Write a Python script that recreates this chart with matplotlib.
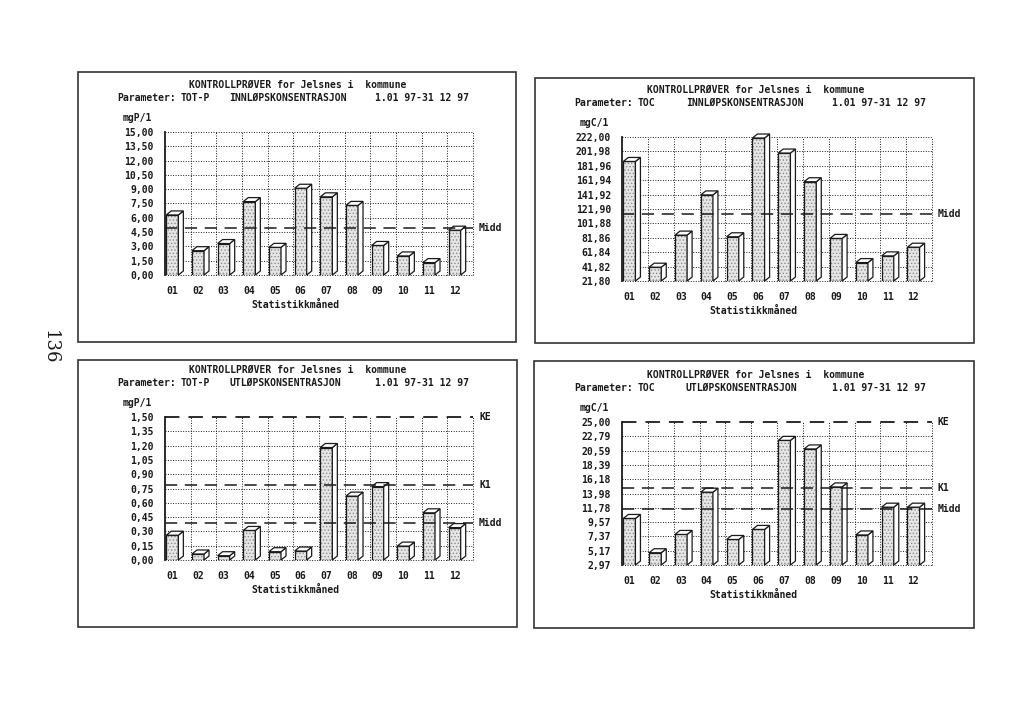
import matplotlib
matplotlib.use('Agg')
import matplotlib.pyplot as plt
from matplotlib.patches import Rectangle, Polygon
from matplotlib.transforms import blended_transform_factory
import numpy as np

W, H = 1024, 724

months = ['01', '02', '03', '04', '05', '06', '07', '08', '09', '10', '11', '12']

# TOT-P innløp (mgP/l)
totp_inn = [6.3, 2.55, 3.3, 7.7, 2.9, 9.1, 8.2, 7.3, 3.1, 2.0, 1.3, 4.7]
totp_inn_ticks = ['0,00', '1,50', '3,00', '4,50', '6,00', '7,50', '9,00',
                  '10,50', '12,00', '13,50', '15,00']
totp_inn_midd = 4.88

# TOC innløp (mgC/l)
toc_inn = [188.0, 41.0, 85.6, 141.5, 83.3, 220.6, 199.7, 159.8, 81.0, 47.4, 56.7, 68.8]
toc_inn_ticks = ['21,80', '41,82', '61,84', '81,86', '101,88', '121,90',
                 '141,92', '161,94', '181,96', '201,98', '222,00']
toc_inn_midd = 114.9

# TOT-P utløp (mgP/l)
totp_ut = [0.26, 0.063, 0.045, 0.31, 0.087, 0.094, 1.18, 0.67, 0.77, 0.146, 0.495, 0.34]
totp_ut_ticks = ['0,00', '0,15', '0,30', '0,45', '0,60', '0,75', '0,90',
                 '1,05', '1,20', '1,35', '1,50']
totp_ut_midd = 0.387
totp_ut_k1 = 0.79
totp_ut_ke = 1.50

# TOC utløp (mgC/l)
toc_ut = [10.14, 4.86, 7.68, 14.19, 6.9, 8.45, 22.17, 20.85, 15.0, 7.6, 11.88, 11.88]
toc_ut_ticks = ['2,97', '5,17', '7,37', '9,57', '11,78', '13,98', '16,18',
                '18,39', '20,59', '22,79', '25,00']
toc_ut_midd = 11.57
toc_ut_k1 = 14.76
toc_ut_ke = 25.00

title = 'KONTROLLPRØVER for Jelsnes i  kommune'
period = '1.01 97-31 12 97'

plt.rcParams['font.family'] = ['DejaVu Sans Mono']
plt.rcParams['font.weight'] = 'bold'
plt.rcParams['hatch.linewidth'] = 0.6

INK = '#1a1a1a'
FS = 7


def fx(x):
    return x / W


def fy(y):
    return 1 - y / H


def draw_panel(fig, frame, plot, param, kons, unit, values, ticks, lines):
    # Outer frame of the panel.
    x0, y0, x1, y1 = frame
    fig.add_artist(Rectangle((fx(x0), fy(y1)), fx(x1 - x0), (y1 - y0) / H,
                             transform=fig.transFigure, fill=False,
                             edgecolor='#333333', lw=1.2))

    px0, py0, px1, py1 = plot
    ax = fig.add_axes([fx(px0), fy(py1), fx(px1 - px0), (py1 - py0) / H])
    tick_vals = [float(t.replace(',', '.')) for t in ticks]
    ymin, ymax = tick_vals[0], tick_vals[-1]
    ax.set_xlim(0, 12)
    ax.set_ylim(ymin, ymax)
    for s in ['top', 'right', 'bottom']:
        ax.spines[s].set_visible(False)
    ax.spines['left'].set_linewidth(1.3)
    ax.spines['left'].set_color(INK)

    # Dotted grid (skipped where a dashed limit line sits on the border).
    line_vals = [v for v, _, _ in lines]
    for y in tick_vals:
        if any(abs(y - v) < 1e-9 for v in line_vals):
            continue
        ax.axhline(y, color=INK, lw=0.7, ls=(0, (1, 1.6)), zorder=1, clip_on=False)
    for k in range(1, 13):
        ax.axvline(k, color=INK, lw=0.7, ls=(0, (1, 1.6)), zorder=1, clip_on=False)

    # Pseudo-3D bars.
    dx = 5 / ((px1 - px0) / 12)
    dy = 4 / (py1 - py0) * (ymax - ymin)
    for k, v in enumerate(values):
        a, b = k + 0.05, k + 0.52
        ax.add_patch(Rectangle((a, ymin), b - a, v - ymin, facecolor='#e6e6e6',
                               hatch='.....', edgecolor='#8c8c8c', lw=0, zorder=3))
        ax.add_patch(Rectangle((a, ymin), b - a, v - ymin, fill=False,
                               edgecolor=INK, lw=0.9, zorder=4))
        ax.add_patch(Polygon([(b, ymin), (b + dx, ymin + dy), (b + dx, v + dy), (b, v)],
                             facecolor='white', edgecolor=INK, lw=0.9, zorder=4,
                             clip_on=False))
        ax.add_patch(Polygon([(a, v), (b, v), (b + dx, v + dy), (a + dx, v + dy)],
                             facecolor='white', edgecolor=INK, lw=0.9, zorder=4,
                             clip_on=False))

    # Reference lines (Midd, K1, KE).
    tr = blended_transform_factory(ax.transAxes, ax.transData)
    for val, lab, lw in lines:
        ax.axhline(val, color=INK, lw=lw, ls=(0, (8, 5)), zorder=6, clip_on=False)
        ax.text(1 + 6 / (px1 - px0), val, lab, transform=tr, ha='left',
                va='center', fontsize=FS, color=INK)

    ax.set_xticks([k + 0.28 for k in range(12)])
    ax.set_xticklabels(months)
    ax.set_yticks(tick_vals)
    ax.set_yticklabels(ticks)
    ax.tick_params(axis='both', length=0, labelsize=FS, colors=INK)
    ax.tick_params(axis='x', pad=8)
    ax.tick_params(axis='y', pad=8)

    # Header texts.
    cx = (px0 + px1) / 2 - 21
    fig.text(fx(cx), fy(py0 - 47), title, ha='center', va='center',
             fontsize=FS, color=INK)
    for dxp, s in zip([-48, 16, 64, 210], ['Parameter:', param, kons, period]):
        fig.text(fx(px0 + dxp), fy(py0 - 34), s, ha='left', va='center',
                 fontsize=FS, color=INK)
    fig.text(fx(px0 - 42), fy(py0 - 14), unit, ha='left', va='center',
             fontsize=FS, color=INK)
    fig.text(fx(px0 + 0.425 * (px1 - px0)), fy(py1 + 30), 'Statistikkmåned',
             ha='center', va='center', fontsize=FS, color=INK)
    return ax


fig = plt.figure(figsize=(W / 100, H / 100), dpi=100)

draw_panel(fig, (78, 72, 516, 342), (165, 132, 473, 275), 'TOT-P',
           'INNLØPSKONSENTRASJON', 'mgP/1', totp_inn, totp_inn_ticks,
           [(totp_inn_midd, 'Midd', 1.1)])
draw_panel(fig, (535, 78, 974, 343), (622, 137, 932, 281), 'TOC',
           'INNLØPSKONSENTRASJON', 'mgC/1', toc_inn, toc_inn_ticks,
           [(toc_inn_midd, 'Midd', 1.1)])
draw_panel(fig, (78, 360, 517, 627), (165, 417, 473, 560), 'TOT-P',
           'UTLØPSKONSENTRASJON', 'mgP/1', totp_ut, totp_ut_ticks,
           [(totp_ut_midd, 'Midd', 1.1), (totp_ut_k1, 'K1', 1.1), (totp_ut_ke, 'KE', 1.3)])
draw_panel(fig, (534, 361, 974, 628), (622, 422, 932, 565), 'TOC',
           'UTLØPSKONSENTRASJON', 'mgC/1', toc_ut, toc_ut_ticks,
           [(toc_ut_midd, 'Midd', 1.1), (toc_ut_k1, 'K1', 1.1), (toc_ut_ke, 'KE', 1.3)])

# Page number.
fig.text(fx(50), fy(347), '136', rotation=-90, ha='center', va='center',
         fontsize=13, family='DejaVu Serif', weight='normal', color=INK)

fig.savefig('out.png', dpi=100)
